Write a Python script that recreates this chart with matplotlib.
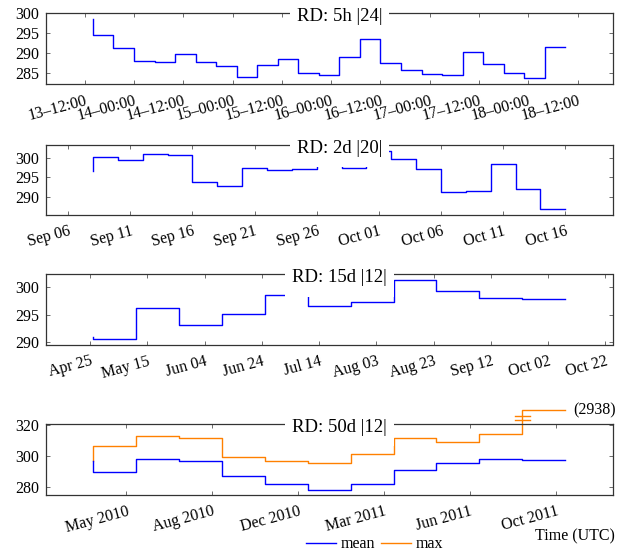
import numpy as np
import pandas as pd
import matplotlib
matplotlib.use("Agg")
import matplotlib.pyplot as plt
import matplotlib.dates as mdates
from matplotlib.lines import Line2D
from matplotlib.patches import Rectangle

plt.rcParams['font.family'] = ['Liberation Serif', 'DejaVu Serif']

# ---------------- data ----------------
titles = ["RD: 5h |24|", "RD: 2d |20|", "RD: 15d |12|", "RD: 50d |12|"]

p1_start, p1_freq = "2011-10-13 14:00", "5h"
p1_mean = [298.5, 294.4, 291.1, 288.0, 287.8, 289.8, 287.8, 286.6, 284.0, 286.8,
           288.4, 284.8, 284.3, 289.0, 293.5, 287.4, 285.6, 284.6, 284.5, 290.2,
           287.1, 285.0, 283.6, 291.4]
p1_ticks = pd.date_range("2011-10-13 12:00", "2011-10-18 12:00", freq="12h")
p1_fmt = "%d\u2013%H:%M"
p1_yticks = [285, 290, 295, 300]

p2_start, p2_freq = "2011-09-08", "2D"
p2_mean = [296.5, 300.1, 299.5, 301.0, 300.6, 293.8, 292.9, 297.4, 296.9, 297.1,
           300.3, 297.4, 301.7, 299.6, 297.0, 291.3, 291.6, 298.3, 292.1, 286.9]
p2_ticks = pd.date_range("2011-09-06", "2011-10-16", freq="5D")
p2_fmt = "%b %d"
p2_yticks = [290, 295, 300]

p3_start, p3_freq = "2011-04-26", "15D"
p3_mean = [290.9, 290.6, 296.2, 293.2, 295.1, 298.5, 296.6, 297.3, 301.2, 299.3,
           298.0, 297.8]
p3_ticks = pd.date_range("2011-04-25", "2011-10-22", freq="20D")
p3_fmt = "%b %d"
p3_yticks = [290, 295, 300]

p4_start, p4_freq = "2010-04-12", "50D"
p4_mean = [296.6, 289.8, 298.1, 297.0, 287.1, 282.2, 278.6, 282.2, 291.3, 295.8,
           298.3, 297.7]
p4_max = [296.6, 306.6, 313.1, 311.7, 299.4, 297.2, 295.8, 301.3, 311.7, 309.3,
          314.2, 2938.0]
p4_ticks = pd.date_range("2010-05-21", periods=6, freq="100D")
p4_fmt = "%b %Y"
p4_yticks = [280, 300, 320]
p4_ylim = (275.1, 320.4)
p4_cap = 329.6            # where the out-of-range max is drawn
p4_break = [323.1, 325.4]  # break marks on the clipped step

legend_labels = ["mean", "max"]
xlabel = "Time (UTC)"

# ---------------- style ----------------
BLUE = "#0000ff"
ORANGE = "#ff8000"
LW = 1.0
TICK_FS = 11.5
TITLE_FS = 13.5
W, H = 631, 552

fig = plt.figure(figsize=(W / 100, H / 100), dpi=100)

left_px, right_px = 45.7, 612.5
panels_px = [(13.3, 84.0), (145.0, 215.0), (274.5, 345.0), (424.3, 495.0)]
title_cx_px = 339.5
title_drop_px = 3.5
box_below_px = 22.0
box_above_px = 14.0
box_hpad_px = 7.0

axes_list = []
title_texts = []


def make_ax(top, bot):
    return fig.add_axes([left_px / W, 1 - bot / H, (right_px - left_px) / W, (bot - top) / H])


def style_ax(ax, ticks, fmt, yticks, title, top_px):
    ax.set_xticks(ticks)
    ax.xaxis.set_major_formatter(mdates.DateFormatter(fmt))
    ax.set_yticks(yticks)
    ax.tick_params(direction='in', length=3.0, width=0.6, color='#555555',
                   top=True, right=True, labelsize=TICK_FS, pad=4.5)
    ax.tick_params(axis='x', pad=6.0)
    for s in ax.spines.values():
        s.set_color('#333333')
        s.set_linewidth(0.9)
    for lab in ax.get_xticklabels():
        lab.set_rotation(15)
        lab.set_ha('right')
        lab.set_rotation_mode('anchor')
    txt = fig.text(title_cx_px / W, 1 - (top_px + title_drop_px) / H, title,
                   ha='center', va='center', fontsize=TITLE_FS, zorder=11)
    title_texts.append((txt, top_px))


def enlarge(lo, hi, frac=0.1):
    r = hi - lo
    return lo - frac * r, hi + frac * r


series = [
    (p1_start, p1_freq, p1_mean, p1_ticks, p1_fmt, p1_yticks),
    (p2_start, p2_freq, p2_mean, p2_ticks, p2_fmt, p2_yticks),
    (p3_start, p3_freq, p3_mean, p3_ticks, p3_fmt, p3_yticks),
]

for i, (start, freq, vals, ticks, fmt, yt) in enumerate(series):
    ax = make_ax(*panels_px[i])
    t = pd.date_range(start, periods=len(vals), freq=freq)
    ax.step(t, vals, where='pre', color=BLUE, lw=LW)
    x0, x1 = enlarge(mdates.date2num(t[0]), mdates.date2num(t[-1]))
    ax.set_xlim(x0, x1)
    ax.set_ylim(*enlarge(min(vals), max(vals)))
    style_ax(ax, ticks, fmt, yt, titles[i], panels_px[i][0])

# panel 4
ax = make_ax(*panels_px[3])
t4 = pd.date_range(p4_start, periods=len(p4_mean), freq=p4_freq)
max_arr = np.array(p4_max)
max_draw = np.minimum(max_arr, p4_cap)
ax.step(t4, max_draw, where='pre', color=ORANGE, lw=LW, clip_on=False)
ax.step(t4, p4_mean, where='pre', color=BLUE, lw=LW)
x0, x1 = enlarge(mdates.date2num(t4[0]), mdates.date2num(t4[-1]))
ax.set_xlim(x0, x1)
ax.set_ylim(*p4_ylim)
tb = mdates.date2num(t4[-2])
half = 8.5
for yb in p4_break:
    ax.plot([tb - half, tb + half], [yb, yb], color=ORANGE, lw=LW, clip_on=False)
ax.annotate(f"({max_arr[-1]:.0f})", xy=(t4[-1], p4_cap), xytext=(6, 0),
            textcoords='offset points', ha='left', va='center', fontsize=TICK_FS,
            annotation_clip=False)
style_ax(ax, p4_ticks, p4_fmt, p4_yticks, titles[3], panels_px[3][0])

# white boxes behind the titles (they hide the spine and the lines beneath)
fig.canvas.draw()
renderer = fig.canvas.get_renderer()
for txt, top_px in title_texts:
    bb = txt.get_window_extent(renderer)
    x_lo = bb.x0 - box_hpad_px
    x_hi = bb.x1 + box_hpad_px
    y_lo = H - (top_px + box_below_px)
    y_hi = H - (top_px - box_above_px)
    fig.patches.append(Rectangle((x_lo / W, y_lo / H), (x_hi - x_lo) / W, (y_hi - y_lo) / H,
                                 transform=fig.transFigure, facecolor='white',
                                 edgecolor='none', zorder=10))

fig.text(615 / W, 1 - 536.7 / H, xlabel, ha='right', va='center', fontsize=TICK_FS)

handles = [Line2D([], [], color=BLUE, lw=LW), Line2D([], [], color=ORANGE, lw=LW)]
fig.legend(handles, legend_labels, loc='center', bbox_to_anchor=(374.5 / W, 1 - 544.3 / H),
           ncol=2, frameon=False, fontsize=TICK_FS, handlelength=1.9, handletextpad=0.3,
           columnspacing=0.35, borderpad=0, borderaxespad=0)

fig.savefig("out.png", dpi=100)
